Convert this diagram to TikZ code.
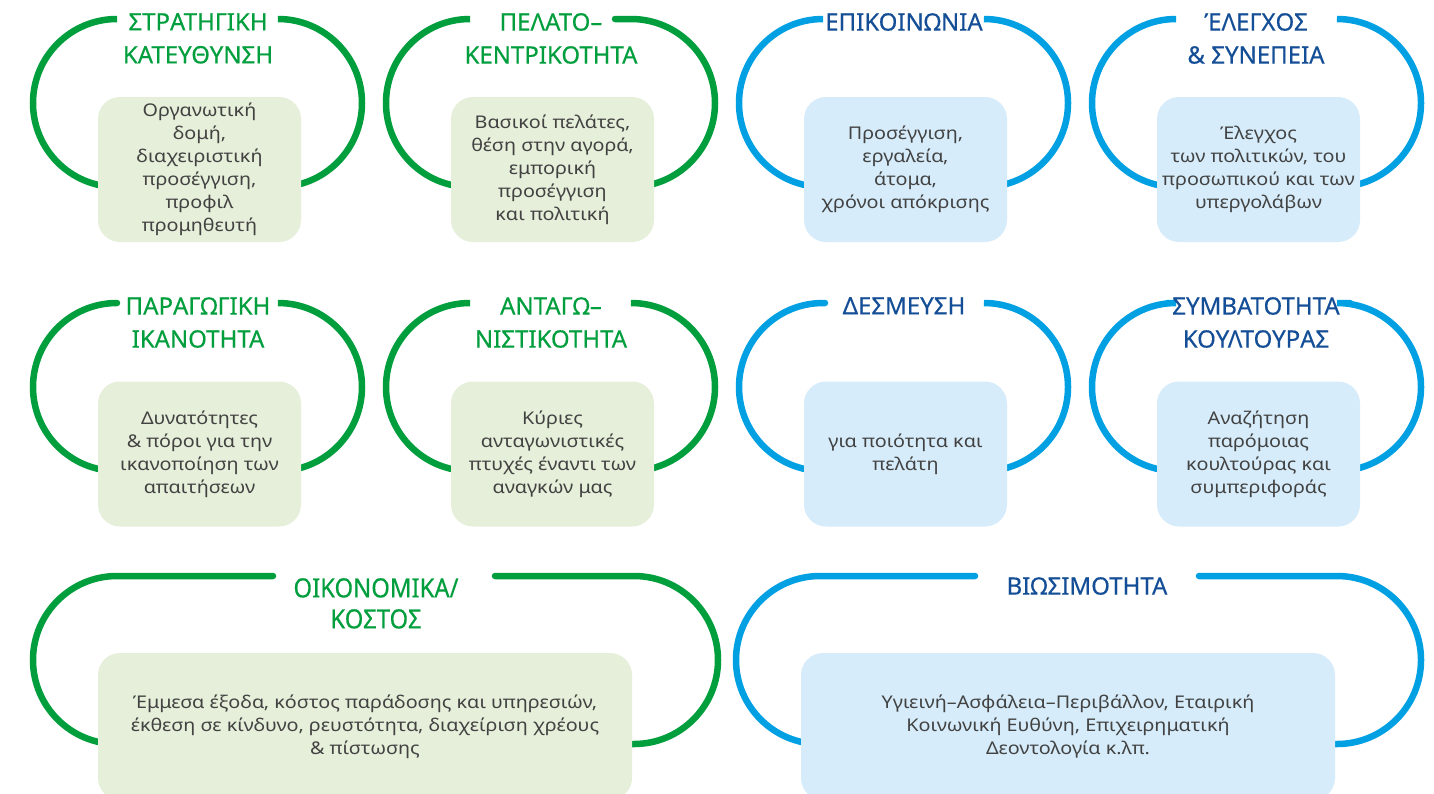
\documentclass[tikz,border=0pt]{standalone}
\usepackage{fontspec}
\setmainfont{Noto Sans}
\newfontfamily\titlefont[FakeBold=0.35]{Noto Sans}
\newfontfamily\narrowfont[FakeStretch=0.9,FakeBold=0.35]{Noto Sans}
\newfontfamily\bodyfont[FakeStretch=1.13]{Noto Sans}
\definecolor{ringgreen}{RGB}{0,158,61}
\definecolor{ringblue}{RGB}{0,160,227}
\definecolor{titleblue}{RGB}{20,78,150}
\definecolor{boxgreen}{RGB}{229,239,217}
\definecolor{boxblue}{RGB}{214,236,250}
\definecolor{bodygray}{RGB}{66,66,66}
\newcommand\ringpair[6]{%
  \draw[#1] (#5,-#4) -- ({#2+84},-#4) arc[start angle=90,end angle=270,radius=84] -- ++(25,0);
  \draw[#1] (#6,-#4) -- ({#3-84},-#4) arc[start angle=90,end angle=-90,radius=84] -- ++(-25,0);
}
\begin{document}
\begin{tikzpicture}[x=1pt,y=1pt,
  ring/.style={line width=6.5pt,line cap=round},
  gring/.style={ring,draw=ringgreen},
  bring/.style={ring,draw=ringblue},
  boxbase/.style={inner sep=0pt,rounded corners=22pt,align=center,text=bodygray,
    font=\bodyfont\fontsize{17.5}{23}\selectfont},
  gbox/.style={boxbase,fill=boxgreen},
  bbox/.style={boxbase,fill=boxblue},
  small/.style={minimum width=203pt,minimum height=145pt},
  wide/.style={minimum width=534pt,minimum height=147pt},
  ttl/.style={anchor=north,align=center,inner sep=0pt,font=\titlefont\fontsize{24}{33}\selectfont},
  gttl/.style={ttl,text=ringgreen},
  bttl/.style={ttl,text=titleblue},
]
\useasboundingbox[fill=white] (0,0) rectangle (1434,-793);

% rings: style, L, R, T, gap left, gap right
\ringpair{gring}{33}{362}{19}{115}{281}
\ringpair{gring}{386}{715}{19}{467}{615}
\ringpair{bring}{739}{1068}{19}{822}{985}
\ringpair{bring}{1092}{1421}{19}{1175}{1340}
\ringpair{gring}{33}{362}{303}{117}{281}
\ringpair{gring}{386}{715}{303}{469}{635}
\ringpair{bring}{739}{1068}{303}{825}{985}
\ringpair{bring}{1092}{1421}{303}{1167}{1350}
\ringpair{gring}{33}{718}{576}{273}{495}
\ringpair{bring}{736}{1421}{576}{975}{1199}

% titles
\node[gttl] (t11) at (198,-13) {ΣΤΡΑΤΗΓΙΚΗ\\ΚΑΤΕΥΘΥΝΣΗ};
\node[gttl] (t12) at (551,-13) {ΠΕΛΑΤΟ–\\ΚΕΝΤΡΙΚΟΤΗΤΑ};
\node[bttl] (t13) at (904,-13) {ΕΠΙΚΟΙΝΩΝΙΑ};
\node[bttl] (t14) at (1256,-13) {ΈΛΕΓΧΟΣ\\\& ΣΥΝΕΠΕΙΑ};
\node[gttl] (t21) at (198,-297) {ΠΑΡΑΓΩΓΙΚΗ\\ΙΚΑΝΟΤΗΤΑ};
\node[gttl] (t22) at (551,-297) {ΑΝΤΑΓΩ–\\ΝΙΣΤΙΚΟΤΗΤΑ};
\node[bttl] (t23) at (904,-297) {ΔΕΣΜΕΥΣΗ};
\node[bttl] (t24) at (1256,-297) {ΣΥΜΒΑΤΟΤΗΤΑ\\ΚΟΥΛΤΟΥΡΑΣ};
\node[gttl,font=\narrowfont\fontsize{26.5}{31}\selectfont] (t31) at (376,-578) {ΟΙΚΟΝΟΜΙΚΑ/\\ΚΟΣΤΟΣ};
\node[bttl] (t32) at (1087,-577) {ΒΙΩΣΙΜΟΤΗΤΑ};

% boxes
\node[gbox,small] (b11) at (199.5,-169.5) {Οργανωτική\\δομή,\\διαχειριστική\\προσέγγιση,\\προφιλ\\προμηθευτή};
\node[gbox,small] (b12) at (552.5,-169.5) {Βασικοί πελάτες,\\θέση στην αγορά,\\εμπορική\\προσέγγιση\\και πολιτική};
\node[bbox,small] (b13) at (905.5,-169.5) {Προσέγγιση,\\εργαλεία,\\άτομα,\\χρόνοι απόκρισης};
\node[bbox,small] (b14) at (1258.5,-169.5) {Έλεγχος\\των πολιτικών, του\\προσωπικού και των\\υπεργολάβων};
\node[gbox,small] (b21) at (199.5,-454) {Δυνατότητες\\\& πόροι για την\\ικανοποίηση των\\απαιτήσεων};
\node[gbox,small] (b22) at (552.5,-454) {Κύριες\\ανταγωνιστικές\\πτυχές έναντι των\\αναγκών μας};
\node[bbox,small] (b23) at (905.5,-454) {για ποιότητα και\\πελάτη};
\node[bbox,small] (b24) at (1258.5,-454) {Αναζήτηση\\παρόμοιας\\κουλτούρας και\\συμπεριφοράς};
\node[gbox,wide] (b31) at (365,-726.5) {Έμμεσα έξοδα, κόστος παράδοσης και υπηρεσιών,\\έκθεση σε κίνδυνο, ρευστότητα, διαχείριση χρέους\\\& πίστωσης};
\node[bbox,wide] (b32) at (1068,-726.5) {Υγιεινή–Ασφάλεια–Περιβάλλον, Εταιρική\\Κοινωνική Ευθύνη, Επιχειρηματική\\Δεοντολογία κ.λπ.};
\end{tikzpicture}
\end{document}
